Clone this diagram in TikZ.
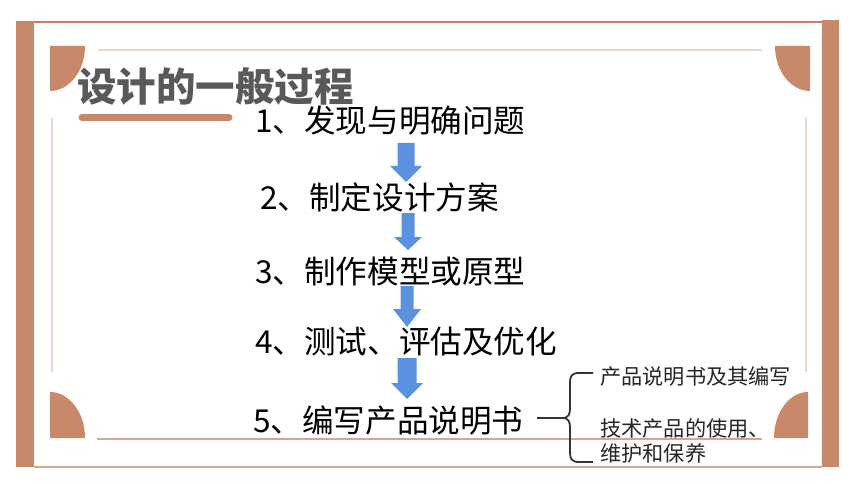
\documentclass[tikz,border=0pt]{standalone}
\usepackage{fontspec}
\setmainfont{Noto Sans CJK SC}
\definecolor{brownc}{HTML}{C8896A}
\definecolor{lightc}{HTML}{EDD7CB}
\definecolor{salmonc}{HTML}{DBA58B}
\definecolor{bluec}{HTML}{5B92E0}
\definecolor{titlec}{HTML}{595959}
\definecolor{bracec}{HTML}{333333}
\newcommand\bluearrow[6]{% cx, ytop, yhead, ytip, shaft half, head half
  \fill[bluec] (#1-#5,#2) -- (#1+#5,#2) -- (#1+#5,#3) -- (#1+#6,#3) -- (#1,#4)
    -- (#1-#6,#3) -- (#1-#5,#3) -- cycle;}
\begin{document}
\begin{tikzpicture}[x=1pt,y=-1pt,
  stepnode/.style={anchor=west,inner sep=0pt,font=\fontsize{31.6}{36}\selectfont,text=black},
  sidenode/.style={anchor=west,inner sep=0pt,font=\fontsize{21.2}{24}\selectfont,text=black!85},
  titlenode/.style={anchor=west,inner sep=0pt,font=\fontsize{39.5}{44}\selectfont\bfseries}]
\useasboundingbox (0,0) rectangle (860,484);
\fill[white] (0,0) rectangle (860,484);
% frame
\fill[brownc] (16,21) rectangle (34,467);
\fill[brownc] (822,20) rectangle (839,467);
\draw[brownc!90!red, line width=1.2pt] (34,22) -- (822,22);
\draw[salmonc, line width=2pt] (34,467) -- (822,467);
\draw[lightc, line width=1.6pt] (98,50) -- (762,50);
\draw[lightc, line width=1.6pt] (52,118) -- (52,372);
\draw[lightc, line width=1.6pt] (806,117) -- (806,372);
\draw[salmonc, line width=1.2pt] (97,439) -- (762,439);
% quarter discs
\fill[brownc] (50,46) -- (85,46) arc[start angle=0,end angle=90,x radius=35,y radius=45] -- cycle;
\fill[brownc] (810,46) -- (775,46) arc[start angle=180,end angle=90,x radius=35,y radius=45] -- cycle;
\fill[brownc] (50,438) -- (85,438) arc[start angle=0,end angle=-90,x radius=35,y radius=46] -- cycle;
\fill[brownc] (808,438) -- (774,438) arc[start angle=180,end angle=270,x radius=34,y radius=46] -- cycle;
% title
\node[titlenode,text=titlec] (title) at (77,86) {设计的一般过程};
\draw[brownc, line width=7pt, line cap=round] (82,117.5) -- (229,117.5);
% steps
\node[stepnode] (s1) at (255,121) {1、发现与明确问题};
\node[stepnode] (s2) at (260,197) {2、制定设计方案};
\node[stepnode] (s3) at (255,272) {3、制作模型或原型};
\node[stepnode] (s4) at (255,341) {4、测试、评估及优化};
\node[stepnode] (s5) at (253,421) {5、编写产品说明书};
% arrows
\bluearrow{406}{143}{166}{182}{8.5}{16}
\bluearrow{408}{213}{237}{250}{6.5}{14}
\bluearrow{407}{286}{309}{327}{6.5}{14}
\bluearrow{407}{358}{383}{399}{9.5}{16}
% brace
\coordinate (bs) at (537,418);
\coordinate (bt) at (593,373);
\coordinate (bb) at (593,462);
\draw[bracec, line width=1.8pt]
  (bs) -- (562,418)
  .. controls (569,418) and (570,414) .. (570,408) -- (570,382)
  .. controls (570,376) and (572,373) .. (579,373) -- (bt);
\draw[bracec, line width=1.8pt]
  (562,418) .. controls (569,418) and (570,422) .. (570,428) -- (570,453)
  .. controls (570,459) and (572,462) .. (579,462) -- (bb);
% side texts
\node[sidenode] (r1) at (600,376) {产品说明书及其编写};
\node[sidenode] (r2) at (600,428) {技术产品的使用、};
\node[sidenode] (r3) at (600,453) {维护和保养};
\end{tikzpicture}
\end{document}
